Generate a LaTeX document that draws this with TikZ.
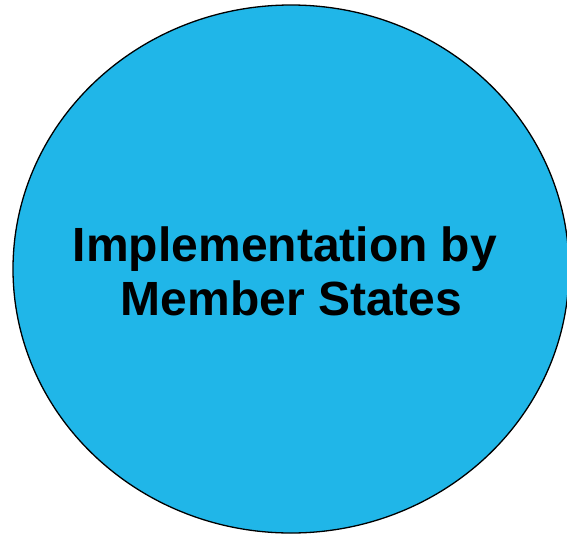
\documentclass[tikz,border=0pt]{standalone}
\usepackage{fontspec}
\setmainfont{Liberation Sans}
\usepackage{xcolor}
\definecolor{msblue}{HTML}{20B6E8}
\usetikzlibrary{shapes.geometric}

\begin{document}
\begin{tikzpicture}[x=1pt,y=-1pt]
	\useasboundingbox (0,0) rectangle (567,536);
	\clip (0,0) rectangle (567,536);
	
	\draw[fill=msblue,line width=1.3pt] (291,269) ellipse [x radius=278,y radius=264];
	
	\node[align=center,font=\fontsize{48}{54}\selectfont\bfseries,inner sep=0pt] (label) at (285,271)
		{Implementation by\\ \hspace*{13pt}Member States};
\end{tikzpicture}
\end{document}
